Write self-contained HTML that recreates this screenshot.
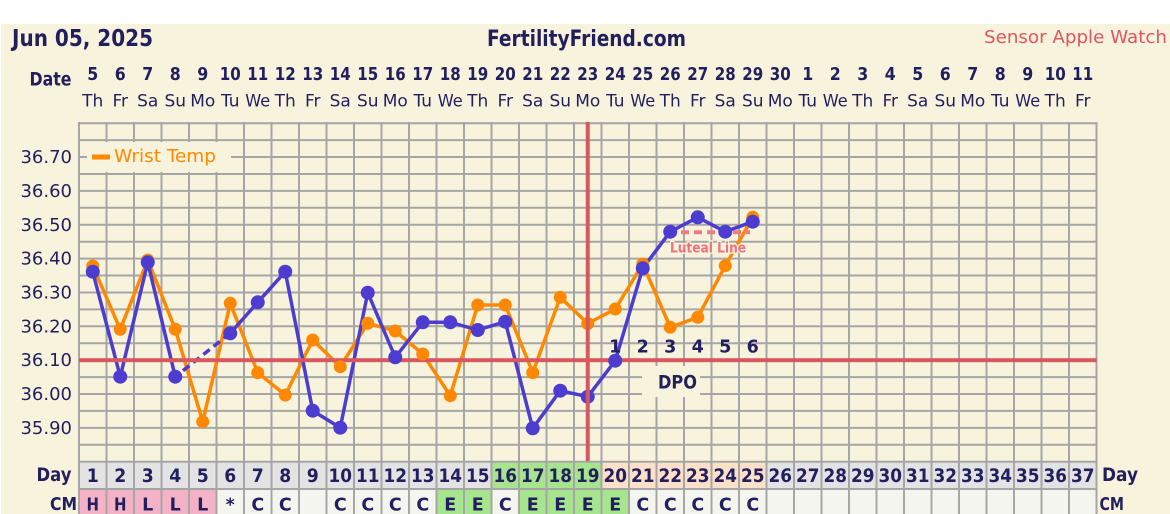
<!DOCTYPE html>
<html><head><meta charset="utf-8"><style>
html,body{margin:0;padding:0;background:#fff;}
svg{display:block;font-family:"DejaVu Sans","Liberation Sans",sans-serif;}
</style></head><body>
<svg width="1170" height="514" viewBox="0 0 1170 514" xmlns="http://www.w3.org/2000/svg">
<rect x="0" y="0" width="1170" height="514" fill="#ffffff"/>
<rect x="1" y="24" width="1169" height="490" fill="#f8f3dc"/>

<!-- titles -->
<g fill="#231f5f">
<text x="12" y="46" font-size="23" font-weight="bold" textLength="141" lengthAdjust="spacingAndGlyphs">Jun 05, 2025</text>
<text x="487" y="46" font-size="22" font-weight="bold" textLength="199" lengthAdjust="spacingAndGlyphs">FertilityFriend.com</text>
<text x="29.5" y="85.5" font-size="19" font-weight="bold" textLength="42" lengthAdjust="spacingAndGlyphs">Date</text>
</g>
<text x="984" y="43" font-size="18" fill="#e0555f" textLength="183" lengthAdjust="spacingAndGlyphs">Sensor Apple Watch</text>

<!-- header date numbers -->
<g fill="#231f5f" font-size="18" font-weight="bold" text-anchor="middle">
<text x="92.75" y="80" textLength="11" lengthAdjust="spacingAndGlyphs">5</text><text x="120.25" y="80" textLength="11" lengthAdjust="spacingAndGlyphs">6</text><text x="147.75" y="80" textLength="11" lengthAdjust="spacingAndGlyphs">7</text><text x="175.25" y="80" textLength="11" lengthAdjust="spacingAndGlyphs">8</text><text x="202.75" y="80" textLength="11" lengthAdjust="spacingAndGlyphs">9</text><text x="230.25" y="80" textLength="21" lengthAdjust="spacingAndGlyphs">10</text><text x="257.75" y="80" textLength="21" lengthAdjust="spacingAndGlyphs">11</text><text x="285.25" y="80" textLength="21" lengthAdjust="spacingAndGlyphs">12</text><text x="312.75" y="80" textLength="21" lengthAdjust="spacingAndGlyphs">13</text><text x="340.25" y="80" textLength="21" lengthAdjust="spacingAndGlyphs">14</text><text x="367.75" y="80" textLength="21" lengthAdjust="spacingAndGlyphs">15</text><text x="395.25" y="80" textLength="21" lengthAdjust="spacingAndGlyphs">16</text><text x="422.75" y="80" textLength="21" lengthAdjust="spacingAndGlyphs">17</text><text x="450.25" y="80" textLength="21" lengthAdjust="spacingAndGlyphs">18</text><text x="477.75" y="80" textLength="21" lengthAdjust="spacingAndGlyphs">19</text><text x="505.25" y="80" textLength="21" lengthAdjust="spacingAndGlyphs">20</text><text x="532.75" y="80" textLength="21" lengthAdjust="spacingAndGlyphs">21</text><text x="560.25" y="80" textLength="21" lengthAdjust="spacingAndGlyphs">22</text><text x="587.75" y="80" textLength="21" lengthAdjust="spacingAndGlyphs">23</text><text x="615.25" y="80" textLength="21" lengthAdjust="spacingAndGlyphs">24</text><text x="642.75" y="80" textLength="21" lengthAdjust="spacingAndGlyphs">25</text><text x="670.25" y="80" textLength="21" lengthAdjust="spacingAndGlyphs">26</text><text x="697.75" y="80" textLength="21" lengthAdjust="spacingAndGlyphs">27</text><text x="725.25" y="80" textLength="21" lengthAdjust="spacingAndGlyphs">28</text><text x="752.75" y="80" textLength="21" lengthAdjust="spacingAndGlyphs">29</text><text x="780.25" y="80" textLength="21" lengthAdjust="spacingAndGlyphs">30</text><text x="807.75" y="80" textLength="11" lengthAdjust="spacingAndGlyphs">1</text><text x="835.25" y="80" textLength="11" lengthAdjust="spacingAndGlyphs">2</text><text x="862.75" y="80" textLength="11" lengthAdjust="spacingAndGlyphs">3</text><text x="890.25" y="80" textLength="11" lengthAdjust="spacingAndGlyphs">4</text><text x="917.75" y="80" textLength="11" lengthAdjust="spacingAndGlyphs">5</text><text x="945.25" y="80" textLength="11" lengthAdjust="spacingAndGlyphs">6</text><text x="972.75" y="80" textLength="11" lengthAdjust="spacingAndGlyphs">7</text><text x="1000.25" y="80" textLength="11" lengthAdjust="spacingAndGlyphs">8</text><text x="1027.75" y="80" textLength="11" lengthAdjust="spacingAndGlyphs">9</text><text x="1055.25" y="80" textLength="21" lengthAdjust="spacingAndGlyphs">10</text><text x="1082.75" y="80" textLength="21" lengthAdjust="spacingAndGlyphs">11</text>
</g>
<g fill="#231f5f" font-size="17" text-anchor="middle">
<text x="92.75" y="106.5">Th</text><text x="120.25" y="106.5">Fr</text><text x="147.75" y="106.5">Sa</text><text x="175.25" y="106.5">Su</text><text x="202.75" y="106.5">Mo</text><text x="230.25" y="106.5">Tu</text><text x="257.75" y="106.5" textLength="25" lengthAdjust="spacingAndGlyphs">We</text><text x="285.25" y="106.5">Th</text><text x="312.75" y="106.5">Fr</text><text x="340.25" y="106.5">Sa</text><text x="367.75" y="106.5">Su</text><text x="395.25" y="106.5">Mo</text><text x="422.75" y="106.5">Tu</text><text x="450.25" y="106.5" textLength="25" lengthAdjust="spacingAndGlyphs">We</text><text x="477.75" y="106.5">Th</text><text x="505.25" y="106.5">Fr</text><text x="532.75" y="106.5">Sa</text><text x="560.25" y="106.5">Su</text><text x="587.75" y="106.5">Mo</text><text x="615.25" y="106.5">Tu</text><text x="642.75" y="106.5" textLength="25" lengthAdjust="spacingAndGlyphs">We</text><text x="670.25" y="106.5">Th</text><text x="697.75" y="106.5">Fr</text><text x="725.25" y="106.5">Sa</text><text x="752.75" y="106.5">Su</text><text x="780.25" y="106.5">Mo</text><text x="807.75" y="106.5">Tu</text><text x="835.25" y="106.5" textLength="25" lengthAdjust="spacingAndGlyphs">We</text><text x="862.75" y="106.5">Th</text><text x="890.25" y="106.5">Fr</text><text x="917.75" y="106.5">Sa</text><text x="945.25" y="106.5">Su</text><text x="972.75" y="106.5">Mo</text><text x="1000.25" y="106.5">Tu</text><text x="1027.75" y="106.5" textLength="25" lengthAdjust="spacingAndGlyphs">We</text><text x="1055.25" y="106.5">Th</text><text x="1082.75" y="106.5">Fr</text>
</g>

<!-- y labels -->
<g fill="#231f5f" font-size="18" text-anchor="end">
<text x="72" y="163">36.70</text><text x="72" y="197">36.60</text><text x="72" y="231">36.50</text><text x="72" y="264.6">36.40</text><text x="72" y="298.5">36.30</text><text x="72" y="332.3">36.20</text><text x="72" y="366.2">36.10</text><text x="72" y="400">36.00</text><text x="72" y="433.9">35.90</text>
</g>

<!-- bottom rows backgrounds -->
<rect x="79" y="461.7" width="1017.5" height="27.3" fill="#e3e3e3"/>
<rect x="491.5" y="461.7" width="110" height="27.3" fill="#a6e48e"/>
<rect x="601.5" y="461.7" width="165" height="27.3" fill="#fde0c8"/>
<rect x="79" y="489" width="1017.5" height="25" fill="#f5f5f0"/>
<rect x="79" y="489" width="137.5" height="25" fill="#f4b2c6"/>
<rect x="436.5" y="489" width="55" height="25" fill="#a6e48e"/>
<rect x="519" y="489" width="110" height="25" fill="#a6e48e"/>

<!-- grid -->
<path stroke="#a6a6a6" stroke-width="2" fill="none" d="
M79 123.2H1096.5 M79 140.1H1096.5 M79 157.05H1096.5 M79 173.98H1096.5 M79 190.9H1096.5 M79 207.8H1096.5 M79 224.75H1096.5 M79 241.7H1096.5 M79 258.6H1096.5 M79 275.5H1096.5 M79 292.45H1096.5 M79 309.4H1096.5 M79 326.3H1096.5 M79 343.2H1096.5 M79 360.15H1096.5 M79 377.1H1096.5 M79 394H1096.5 M79 410.9H1096.5 M79 427.85H1096.5 M79 444.8H1096.5 M79 461.7H1096.5 M79 489H1096.5
M79 122V514 M106.5 122V514 M134 122V514 M161.5 122V514 M189 122V514 M216.5 122V514 M244 122V514 M271.5 122V514 M299 122V514 M326.5 122V514 M354 122V514 M381.5 122V514 M409 122V514 M436.5 122V514 M464 122V514 M491.5 122V514 M519 122V514 M546.5 122V514 M574 122V514 M601.5 122V514 M629 122V514 M656.5 122V514 M684 122V514 M711.5 122V514 M739 122V514 M766.5 122V514 M794 122V514 M821.5 122V514 M849 122V514 M876.5 122V514 M904 122V514 M931.5 122V514 M959 122V514 M986.5 122V514 M1014 122V514 M1041.5 122V514 M1069 122V514 M1096.5 122V514"/>

<!-- legend box -->
<rect x="87" y="142" width="144" height="30" fill="#f8f3dc"/>
<rect x="92" y="154.5" width="18" height="5" fill="#ff8800"/>
<text x="114" y="162" font-size="17.5" fill="#ff8800" textLength="102" lengthAdjust="spacingAndGlyphs">Wrist Temp</text>

<!-- DPO box -->
<rect x="642" y="366" width="58" height="31" fill="#f8f3dc"/>

<!-- series lines -->
<polyline fill="none" stroke="#ff8800" stroke-width="3.5" stroke-linejoin="round" points="92.75,266 120.25,329.3 147.75,260 175.25,329.3 202.75,421.7 230.25,303.3 257.75,372.7 285.25,395 312.75,340 340.25,366.7 367.75,323.3 395.25,331 422.75,354 450.25,395.7 477.75,305 505.25,305 532.75,372.7 560.25,297.3 587.75,323.5 615.25,309 642.75,264 670.25,327.3 697.75,317.3 725.25,265.7 752.75,217.3"/>
<polyline fill="none" stroke="#4c3cd0" stroke-width="3.5" stroke-linejoin="round" points="92.75,271.7 120.25,376.7 147.75,262.3 175.25,376.7"/>
<line x1="183" y1="370.6" x2="230.25" y2="333.3" stroke="#4c3cd0" stroke-width="3.5" stroke-dasharray="8 5"/>
<polyline fill="none" stroke="#4c3cd0" stroke-width="3.5" stroke-linejoin="round" points="230.25,333.3 257.75,302.3 285.25,271.7 312.75,410.7 340.25,427.7 367.75,292.7 395.25,357.3 422.75,322.3 450.25,322.3 477.75,330 505.25,321.7 532.75,428.3 560.25,390.7 587.75,396.7 615.25,360.7 642.75,268.3 670.25,231.7 697.75,217.3 725.25,231.7 752.75,221.7"/>

<!-- coverline -->
<rect x="79" y="358.2" width="1017.5" height="4" fill="#d9575f"/>

<!-- luteal line -->
<line x1="681" y1="232.3" x2="750" y2="232.3" stroke="#f07a88" stroke-width="4" stroke-dasharray="8 5"/>
<text x="708" y="252.5" font-size="14" font-weight="bold" fill="#f07080" text-anchor="middle" stroke="#f8f3dc" stroke-width="2.5" paint-order="stroke" textLength="76" lengthAdjust="spacingAndGlyphs">Luteal Line</text>

<!-- dots -->
<g fill="#ff8800">
<circle cx="92.75" cy="266" r="6.5"/><circle cx="120.25" cy="329.3" r="6.5"/><circle cx="147.75" cy="260" r="6.5"/><circle cx="175.25" cy="329.3" r="6.5"/><circle cx="202.75" cy="421.7" r="6.5"/><circle cx="230.25" cy="303.3" r="6.5"/><circle cx="257.75" cy="372.7" r="6.5"/><circle cx="285.25" cy="395" r="6.5"/><circle cx="312.75" cy="340" r="6.5"/><circle cx="340.25" cy="366.7" r="6.5"/><circle cx="367.75" cy="323.3" r="6.5"/><circle cx="395.25" cy="331" r="6.5"/><circle cx="422.75" cy="354" r="6.5"/><circle cx="450.25" cy="395.7" r="6.5"/><circle cx="477.75" cy="305" r="6.5"/><circle cx="505.25" cy="305" r="6.5"/><circle cx="532.75" cy="372.7" r="6.5"/><circle cx="560.25" cy="297.3" r="6.5"/><circle cx="587.75" cy="323.5" r="6.5"/><circle cx="615.25" cy="309" r="6.5"/><circle cx="642.75" cy="264" r="6.5"/><circle cx="670.25" cy="327.3" r="6.5"/><circle cx="697.75" cy="317.3" r="6.5"/><circle cx="725.25" cy="265.7" r="6.5"/><circle cx="752.75" cy="217.3" r="6.5"/>
</g>
<g fill="#4c3cd0">
<circle cx="92.75" cy="271.7" r="7"/><circle cx="120.25" cy="376.7" r="7"/><circle cx="147.75" cy="262.3" r="7"/><circle cx="175.25" cy="376.7" r="7"/><circle cx="230.25" cy="333.3" r="7"/><circle cx="257.75" cy="302.3" r="7"/><circle cx="285.25" cy="271.7" r="7"/><circle cx="312.75" cy="410.7" r="7"/><circle cx="340.25" cy="427.7" r="7"/><circle cx="367.75" cy="292.7" r="7"/><circle cx="395.25" cy="357.3" r="7"/><circle cx="422.75" cy="322.3" r="7"/><circle cx="450.25" cy="322.3" r="7"/><circle cx="477.75" cy="330" r="7"/><circle cx="505.25" cy="321.7" r="7"/><circle cx="532.75" cy="428.3" r="7"/><circle cx="560.25" cy="390.7" r="7"/><circle cx="587.75" cy="396.7" r="7"/><circle cx="615.25" cy="360.7" r="7"/><circle cx="642.75" cy="268.3" r="7"/><circle cx="670.25" cy="231.7" r="7"/><circle cx="697.75" cy="217.3" r="7"/><circle cx="725.25" cy="231.7" r="7"/><circle cx="752.75" cy="221.7" r="7"/>
</g>

<!-- vertical ovulation line -->
<rect x="585.75" y="122" width="4" height="339" fill="#d9575f"/>

<!-- DPO -->
<g fill="#231f5f" font-size="17.5" font-weight="bold" text-anchor="middle">
<text x="615.25" y="352.5">1</text><text x="642.75" y="352.5">2</text><text x="670.25" y="352.5">3</text><text x="697.75" y="352.5">4</text><text x="725.25" y="352.5">5</text><text x="752.75" y="352.5">6</text>
</g>
<text x="677.5" y="388.5" font-size="19" font-weight="bold" fill="#231f5f" text-anchor="middle" textLength="39" lengthAdjust="spacingAndGlyphs">DPO</text>

<!-- Day row -->
<g fill="#231f5f" font-size="18.5" font-weight="bold" text-anchor="middle">
<text x="92.75" y="482" textLength="12" lengthAdjust="spacingAndGlyphs">1</text><text x="120.25" y="482" textLength="12" lengthAdjust="spacingAndGlyphs">2</text><text x="147.75" y="482" textLength="12" lengthAdjust="spacingAndGlyphs">3</text><text x="175.25" y="482" textLength="12" lengthAdjust="spacingAndGlyphs">4</text><text x="202.75" y="482" textLength="12" lengthAdjust="spacingAndGlyphs">5</text><text x="230.25" y="482" textLength="12" lengthAdjust="spacingAndGlyphs">6</text><text x="257.75" y="482" textLength="12" lengthAdjust="spacingAndGlyphs">7</text><text x="285.25" y="482" textLength="12" lengthAdjust="spacingAndGlyphs">8</text><text x="312.75" y="482" textLength="12" lengthAdjust="spacingAndGlyphs">9</text><text x="340.25" y="482" textLength="23.5" lengthAdjust="spacingAndGlyphs">10</text><text x="367.75" y="482" textLength="23.5" lengthAdjust="spacingAndGlyphs">11</text><text x="395.25" y="482" textLength="23.5" lengthAdjust="spacingAndGlyphs">12</text><text x="422.75" y="482" textLength="23.5" lengthAdjust="spacingAndGlyphs">13</text><text x="450.25" y="482" textLength="23.5" lengthAdjust="spacingAndGlyphs">14</text><text x="477.75" y="482" textLength="23.5" lengthAdjust="spacingAndGlyphs">15</text><text x="505.25" y="482" textLength="23.5" lengthAdjust="spacingAndGlyphs">16</text><text x="532.75" y="482" textLength="23.5" lengthAdjust="spacingAndGlyphs">17</text><text x="560.25" y="482" textLength="23.5" lengthAdjust="spacingAndGlyphs">18</text><text x="587.75" y="482" textLength="23.5" lengthAdjust="spacingAndGlyphs">19</text><text x="615.25" y="482" textLength="23.5" lengthAdjust="spacingAndGlyphs">20</text><text x="642.75" y="482" textLength="23.5" lengthAdjust="spacingAndGlyphs">21</text><text x="670.25" y="482" textLength="23.5" lengthAdjust="spacingAndGlyphs">22</text><text x="697.75" y="482" textLength="23.5" lengthAdjust="spacingAndGlyphs">23</text><text x="725.25" y="482" textLength="23.5" lengthAdjust="spacingAndGlyphs">24</text><text x="752.75" y="482" textLength="23.5" lengthAdjust="spacingAndGlyphs">25</text><text x="780.25" y="482" textLength="23.5" lengthAdjust="spacingAndGlyphs">26</text><text x="807.75" y="482" textLength="23.5" lengthAdjust="spacingAndGlyphs">27</text><text x="835.25" y="482" textLength="23.5" lengthAdjust="spacingAndGlyphs">28</text><text x="862.75" y="482" textLength="23.5" lengthAdjust="spacingAndGlyphs">29</text><text x="890.25" y="482" textLength="23.5" lengthAdjust="spacingAndGlyphs">30</text><text x="917.75" y="482" textLength="23.5" lengthAdjust="spacingAndGlyphs">31</text><text x="945.25" y="482" textLength="23.5" lengthAdjust="spacingAndGlyphs">32</text><text x="972.75" y="482" textLength="23.5" lengthAdjust="spacingAndGlyphs">33</text><text x="1000.25" y="482" textLength="23.5" lengthAdjust="spacingAndGlyphs">34</text><text x="1027.75" y="482" textLength="23.5" lengthAdjust="spacingAndGlyphs">35</text><text x="1055.25" y="482" textLength="23.5" lengthAdjust="spacingAndGlyphs">36</text><text x="1082.75" y="482" textLength="23.5" lengthAdjust="spacingAndGlyphs">37</text>
</g>
<!-- CM row -->
<g fill="#231f5f" font-size="17.5" font-weight="bold" text-anchor="middle">
<text x="92.75" y="510.5" textLength="12.5" lengthAdjust="spacingAndGlyphs">H</text><text x="120.25" y="510.5" textLength="12.5" lengthAdjust="spacingAndGlyphs">H</text><text x="147.75" y="510.5">L</text><text x="175.25" y="510.5">L</text><text x="202.75" y="510.5">L</text><text x="230.25" y="510.5">*</text><text x="257.75" y="510.5">C</text><text x="285.25" y="510.5">C</text><text x="340.25" y="510.5">C</text><text x="367.75" y="510.5">C</text><text x="395.25" y="510.5">C</text><text x="422.75" y="510.5">C</text><text x="450.25" y="510.5">E</text><text x="477.75" y="510.5">E</text><text x="505.25" y="510.5">C</text><text x="532.75" y="510.5">E</text><text x="560.25" y="510.5">E</text><text x="587.75" y="510.5">E</text><text x="615.25" y="510.5">E</text><text x="642.75" y="510.5">C</text><text x="670.25" y="510.5">C</text><text x="697.75" y="510.5">C</text><text x="725.25" y="510.5">C</text><text x="752.75" y="510.5">C</text>
</g>
<g fill="#231f5f" font-weight="bold">
<text x="36.5" y="481" font-size="19" textLength="35" lengthAdjust="spacingAndGlyphs">Day</text>
<text x="50" y="510" font-size="18" textLength="27" lengthAdjust="spacingAndGlyphs">CM</text>
<text x="1102" y="481" font-size="19" textLength="36" lengthAdjust="spacingAndGlyphs">Day</text>
<text x="1099.5" y="510" font-size="18" textLength="24.5" lengthAdjust="spacingAndGlyphs">CM</text>
</g>
</svg>
</body></html>
